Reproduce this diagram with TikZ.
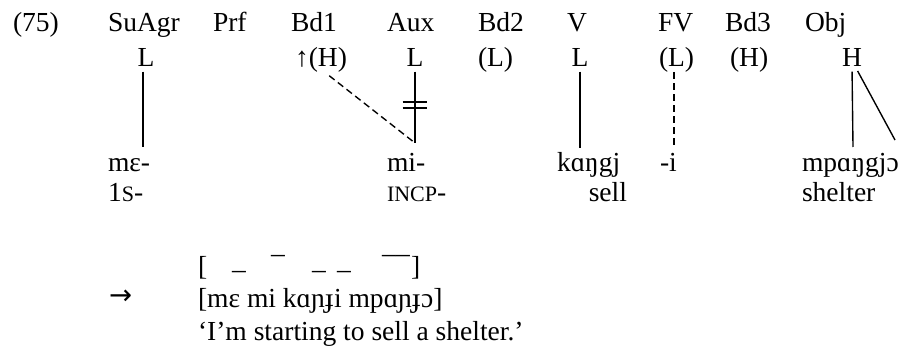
\documentclass[tikz,border=0pt]{standalone}
\usepackage{fontspec}
\setmainfont{Liberation Serif}
\newfontfamily\arrowfont{DejaVu Sans}
\newcommand{\fsc}[1]{{\fontsize{9.6}{10}\selectfont #1}}
\begin{document}
\begin{tikzpicture}[x=0.436pt,y=-0.436pt,
  every node/.style={font=\fontsize{12}{14}\selectfont, inner sep=0pt, outer sep=0pt, anchor=base west},
  tone/.style={anchor=base},
  assoc/.style={line width=0.6pt, shorten <=2pt},
  dassoc/.style={line width=0.6pt, dash pattern=on 3pt off 1.8pt, shorten <=2pt},
  delink/.style={line width=0.7pt}]
\useasboundingbox (0,0) rectangle (919,350);
% row 1: slots
\node (ex)  at (13,32)  {(75)};
\node (suagr) at (108,32) {SuAgr};
\node (prf) at (213,32) {Prf};
\node (bd1) at (291,32) {Bd1};
\node (aux) at (387,32) {Aux};
\node (bd2) at (478,32) {Bd2};
\node (v)   at (567,32) {V};
\node (fv)  at (658,32) {FV};
\node (bd3) at (725,32) {Bd3};
\node (obj) at (805,32) {Obj};
% row 2: tones
\node[tone] (t1) at (146,67) {L};
\node (t2a) at (295,67) {↑};
\node[anchor=base west] (t2) at (t2a.base east) {(H)};
\node[tone] (t3) at (415,67) {L};
\node (t4) at (478,67) {(L)};
\node[tone] (t5) at (580,67) {L};
\node (t6) at (659,67) {(L)};
\node (t7) at (730,67) {(H)};
\node[tone] (t8) at (852,67) {H};
% row 3: segments
\node (s1) at (108,172) {mɛ-};
\node (s3) at (387,172) {mi-};
\node (s5) at (557,172) {kɑŋgj};
\node (s6) at (660,172) {-i};
\node (s8) at (802,172) {mpɑŋgjɔ};
% row 4: glosses
\node (g1) at (108,202) {1\fsc{S}-};
\node (g3) at (387,202) {\fsc{INCP}-};
\node[anchor=base east] (g5) at (627,202) {sell};
\node (g8) at (802,202) {shelter};
% connector end points
\coordinate (e1) at (143,147);
\coordinate (e3) at (415,143);
\coordinate (e5) at (580,148);
\coordinate (e6) at (674,148);
\coordinate (e6s) at (674,72);
\coordinate (e8a) at (853,147);
\coordinate (e8b) at (895,140);
% association lines
\draw[assoc] (t1.south -| e1) -- (e1);
\draw[assoc] (t3.south) -- (e3);
\draw[dassoc] ([xshift=-1pt]t2.south) -- (e3);
\draw[assoc] (t5.south) -- (e5);
\draw[dassoc, shorten <=0pt] (e6s) -- (e6);
\draw[assoc] (t8.south) -- (e8a);
\draw[assoc] ([xshift=1.5pt]t8.south) -- (e8b);
% delinking bars
\coordinate (d1) at (415,102);
\coordinate (d2) at (415,108);
\draw[delink] ([xshift=-5.4pt]d1) -- ([xshift=5.4pt]d1);
\draw[delink] ([xshift=-5.4pt]d2) -- ([xshift=5.4pt]d2);
% surface tones
\node (lb) at (198,276) {[};
\node (m1) at (232,279) {–};
\node (m2) at (271,263) {–};
\node (m3) at (312,279) {–};
\node (m4) at (337,279) {–};
\node (m5) at (382,263) {–};
\node (m6) at (396,263) {–};
\node (rb) at (411,276) {]};
% output
\node (arr) at (109,305) {\arrowfont →};
\node (out) at (198,308) {[mɛ mi kɑɲɟi mpɑɲɟɔ]};
\node (tr) at (198,340) {‘I’m starting to sell a shelter.’};
\end{tikzpicture}
\end{document}
